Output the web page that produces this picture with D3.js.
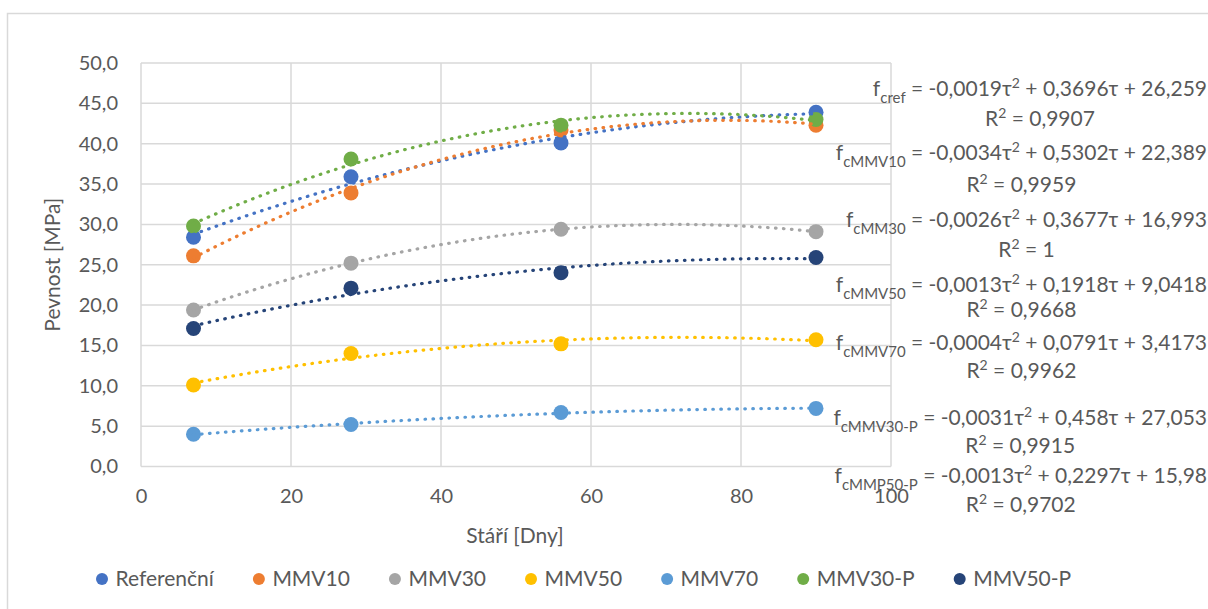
<!DOCTYPE html>
<html lang="cs">
<head>
<meta charset="UTF-8">
<title>Pevnost v čase</title>
<script src="https://d3js.org/d3.v7.min.js"></script>
<style>
  body { margin: 0; background: #fff; }
  svg text { font-family: Lato, "Open Sans", sans-serif; fill: #595959; }
</style>
</head>
<body>
<div id="chart"></div>
<script>
// data
const days = [7, 28, 56, 90];
const seriesNames = ["Referenční", "MMV10", "MMV30", "MMV50", "MMV70", "MMV30-P", "MMV50-P"];
const seriesColors = ["#4472C4", "#ED7D31", "#A5A5A5", "#FFC000", "#5B9BD5", "#70AD47", "#264478"];
const refValues = [28.4, 35.9, 40.1, 43.9];
const mmv10Values = [26.1, 33.9, 41.7, 42.3];
const mmv30Values = [19.4, 25.2, 29.4, 29.1];
const mmv50Values = [10.1, 14.0, 15.2, 15.7];
const mmv70Values = [4.0, 5.2, 6.7, 7.2];
const mmv30pValues = [29.8, 38.1, 42.3, 43.0];
const mmv50pValues = [17.1, 22.1, 24.0, 25.9];
const xTicks = [0, 20, 40, 60, 80, 100];
const yTicks = [0, 5, 10, 15, 20, 25, 30, 35, 40, 45, 50];

// trendline labels (as printed in the chart)
const eqSubs = ["cref", "cMMV10", "cMM30", "cMMV50", "cMMV70", "cMMV30-P", "cMMP50-P"];
const eqBodies = [
  " = -0,0019τ² + 0,3696τ + 26,259",
  " = -0,0034τ² + 0,5302τ + 22,389",
  " = -0,0026τ² + 0,3677τ + 16,993",
  " = -0,0013τ² + 0,1918τ + 9,0418",
  " = -0,0004τ² + 0,0791τ + 3,4173",
  " = -0,0031τ² + 0,458τ + 27,053",
  " = -0,0013τ² + 0,2297τ + 15,98"
];
const r2Texts = ["R² = 0,9907", "R² = 0,9959", "R² = 1", "R² = 0,9668", "R² = 0,9962", "R² = 0,9915", "R² = 0,9702"];

const allValues = [refValues, mmv10Values, mmv30Values, mmv50Values, mmv70Values, mmv30pValues, mmv50pValues];

const W = 1208, H = 609;
const plot = { left: 141, right: 891, top: 63, bottom: 466.5 };

const svg = d3.select("#chart").append("svg")
  .attr("width", W).attr("height", H);

// outer chart border
svg.append("rect")
  .attr("x", 7.5).attr("y", 13.5)
  .attr("width", W + 10).attr("height", H + 10)
  .attr("fill", "none").attr("stroke", "#D9D9D9").attr("stroke-width", 1.5);

const x = d3.scaleLinear().domain([0, 100]).range([plot.left, plot.right]);
const y = d3.scaleLinear().domain([0, 50]).range([plot.bottom, plot.top]);

// gridlines
svg.append("g").selectAll("line").data(yTicks).join("line")
  .attr("x1", plot.left).attr("x2", plot.right)
  .attr("y1", d => y(d)).attr("y2", d => y(d))
  .attr("stroke", "#D9D9D9").attr("stroke-width", 1.5);
svg.append("g").selectAll("line").data(xTicks).join("line")
  .attr("x1", d => x(d)).attr("x2", d => x(d))
  .attr("y1", plot.top).attr("y2", plot.bottom)
  .attr("stroke", "#D9D9D9").attr("stroke-width", 1.5);

// axes (labels only, lines come from the grid)
const yAxis = svg.append("g")
  .attr("transform", `translate(${plot.left},0)`)
  .call(d3.axisLeft(y).tickValues(yTicks).tickSize(0).tickPadding(23)
    .tickFormat(d => d3.format(".1f")(d).replace(".", ",")));
const xAxis = svg.append("g")
  .attr("transform", `translate(0,${plot.bottom})`)
  .call(d3.axisBottom(x).tickValues(xTicks).tickSize(0).tickPadding(22));
[yAxis, xAxis].forEach(a => {
  a.select(".domain").remove();
  a.selectAll("text").attr("font-size", 20).attr("fill", "#595959")
    .style("font-family", "Lato, 'Open Sans', sans-serif");
});

// axis titles
svg.append("text")
  .attr("transform", `translate(60,${(plot.top + plot.bottom) / 2}) rotate(-90)`)
  .attr("text-anchor", "middle").attr("font-size", 21)
  .text("Pevnost [MPa]");
svg.append("text")
  .attr("x", 515).attr("y", 543)
  .attr("text-anchor", "middle").attr("font-size", 21)
  .text("Stáří [Dny]");

// least squares 2nd order fit, like the spreadsheet trendline
function quadFit(xs, ys) {
  let s = [0, 0, 0, 0, 0], t = [0, 0, 0];
  xs.forEach((xi, i) => {
    for (let k = 0; k < 5; k++) s[k] += Math.pow(xi, k);
    for (let k = 0; k < 3; k++) t[k] += ys[i] * Math.pow(xi, k);
  });
  const m = [[s[0], s[1], s[2], t[0]], [s[1], s[2], s[3], t[1]], [s[2], s[3], s[4], t[2]]];
  for (let i = 0; i < 3; i++) {
    for (let j = i + 1; j < 3; j++) {
      const f = m[j][i] / m[i][i];
      for (let k = i; k < 4; k++) m[j][k] -= f * m[i][k];
    }
  }
  const c = [0, 0, 0];
  for (let i = 2; i >= 0; i--) {
    let v = m[i][3];
    for (let k = i + 1; k < 3; k++) v -= m[i][k] * c[k];
    c[i] = v / m[i][i];
  }
  return t0 => c[0] + c[1] * t0 + c[2] * t0 * t0;
}

// markers
allValues.forEach((vals, si) => {
  svg.append("g").selectAll("circle").data(vals).join("circle")
    .attr("cx", (d, i) => x(days[i])).attr("cy", d => y(d))
    .attr("r", 7.5).attr("fill", seriesColors[si]);
});

// trendlines on top
const line = d3.line().x(d => x(d[0])).y(d => y(d[1]));
allValues.forEach((vals, si) => {
  const f = quadFit(days, vals);
  const pts = d3.range(days[0], days[days.length - 1] + 0.01, 0.5).map(t0 => [t0, f(t0)]);
  svg.append("path").datum(pts)
    .attr("d", line).attr("fill", "none")
    .attr("stroke", seriesColors[si]).attr("stroke-width", 3.2)
    .attr("stroke-linecap", "round").attr("stroke-dasharray", "0.6 7.4");
});

// writes text pieces; "²" becomes a raised small 2, sub is lowered
function richText(t, str, sub) {
  let shift = 0;
  const put = (txt, size, level) => {
    const ts = t.append("tspan").text(txt).attr("dy", level - shift);
    if (size) ts.attr("font-size", size);
    shift = level;
  };
  if (sub !== undefined) {
    put("f", null, 0);
    put(sub, 15, 7);
  }
  str.split("²").forEach((p, k) => {
    if (k > 0) put("2", 14, -8);
    put(p, null, 0);
  });
}

// trendline equations
const eqBaselines = [96, 160, 227, 292, 350, 425, 483];
const r2Baselines = [126, 192, 257, 317, 378, 453, 512];
eqBodies.forEach((body, i) => {
  const t = svg.append("text")
    .attr("x", 1207).attr("y", eqBaselines[i])
    .attr("text-anchor", "end").attr("font-size", 21);
  richText(t, body, eqSubs[i]);
  const bb = t.node().getBBox();
  const r = svg.append("text")
    .attr("x", bb.x + bb.width / 2).attr("y", r2Baselines[i])
    .attr("text-anchor", "middle").attr("font-size", 21);
  richText(r, r2Texts[i]);
});

// legend
let lx = 102;
seriesNames.forEach((name, i) => {
  const g = svg.append("g").attr("transform", `translate(${lx},579)`);
  g.append("circle").attr("r", 6).attr("fill", seriesColors[i]);
  const t = g.append("text").attr("x", 13.5).attr("dy", "0.35em")
    .attr("font-size", 21).text(name);
  lx += 13.5 + t.node().getComputedTextLength() + 45;
});
</script>
</body>
</html>
